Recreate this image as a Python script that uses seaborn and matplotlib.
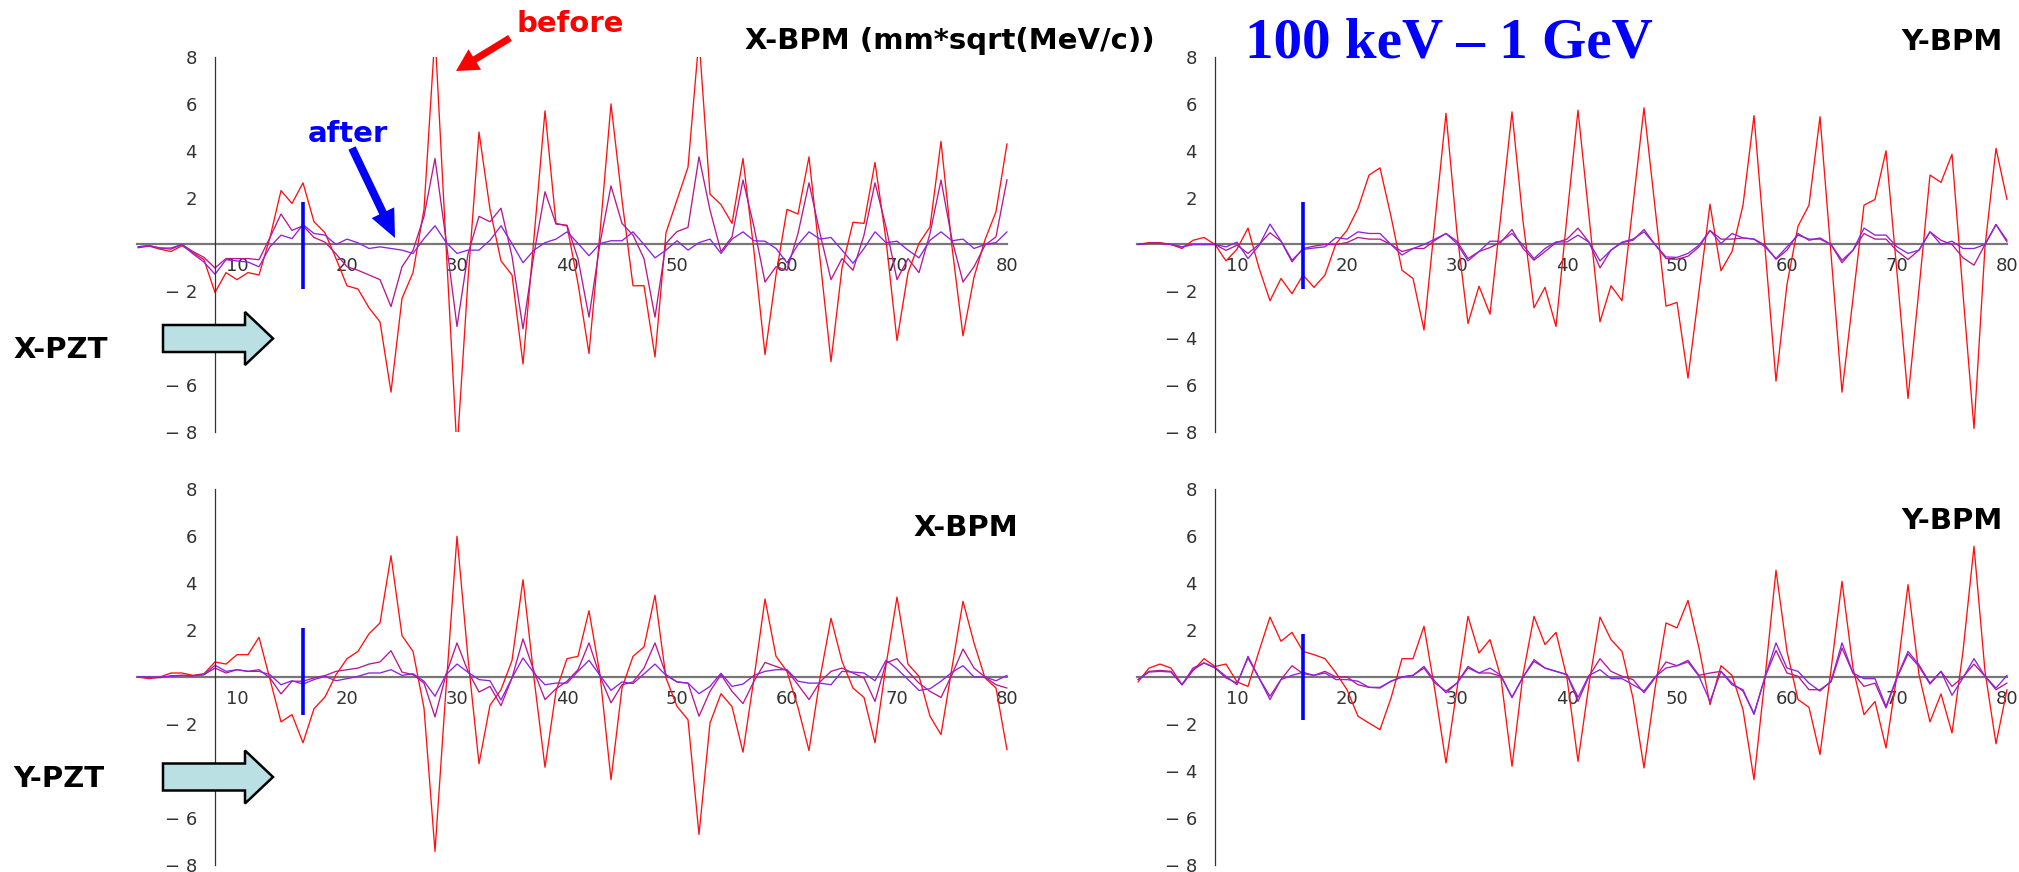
import pandas as pd
import seaborn as sns
import matplotlib
matplotlib.use('Agg')
from matplotlib import pyplot as plt
from matplotlib.patches import Polygon, FancyArrow
from matplotlib.ticker import FixedLocator, MultipleLocator

# BPM index along the line
steps = list(range(1, 81))

# X-PZT kick, X-BPM response (mm*sqrt(MeV/c))
xkick_xbpm_before = [
    -0.14, -0.07, -0.2, -0.3, -0.05, -0.35, -0.65, -2.05, -1.2, -1.5,
    -1.2, -1.3, 0.3, 2.3, 1.75, 2.63, 0.97, 0.5, -0.6, -1.76,
    -1.9, -2.7, -3.3, -6.3, -2.3, -1.2, 1.5, 9.0, 0.0, -8.8,
    -1.5, 4.8, 1.5, -0.7, -1.3, -5.1, 0.3, 5.7, 0.9, 0.8,
    -1.66, -4.65, 0.5, 6.0, 1.9, -1.76, -1.76, -4.8, 0.5, 1.9,
    3.3, 8.8, 2.15, 1.7, 0.9, 3.67, -0.3, -4.7, -1.3, 1.5,
    1.3, 3.74, -0.6, -5.0, -1.0, 0.95, 0.9, 3.5, 0.2, -4.1,
    -1.2, 0.05, 0.75, 4.4, -0.1, -3.9, -1.4, 0.2, 1.4, 4.3]
xkick_xbpm_mid = [
    -0.1, -0.05, -0.15, -0.2, 0.0, -0.3, -0.55, -1.0, -0.6, -0.6,
    -0.6, -0.65, 0.3, 1.3, 0.6, 0.8, 0.3, 0.1, -0.4, -0.95,
    -1.1, -1.3, -1.5, -2.65, -0.95, -0.25, 1.2, 3.67, 0.2, -3.5,
    -0.4, 1.2, 0.97, 1.55, -0.5, -3.6, -0.4, 2.25, 0.87, 0.82,
    -0.6, -3.1, 0.05, 2.5, 0.9, 0.4, -0.6, -3.1, 0.05, 0.55,
    0.73, 3.74, 1.47, -0.3, 0.33, 2.75, 0.75, -1.6, -0.95, -1.1,
    0.47, 2.63, 0.47, -1.5, -0.6, -1.1, 0.4, 2.63, 0.75, -1.5,
    -0.6, -1.2, 0.47, 2.75, 0.2, -1.6, -0.95, -0.03, 0.33, 2.77]
xkick_xbpm_after = [
    -0.1, -0.05, -0.15, -0.15, 0.0, -0.4, -0.75, -1.27, -0.65, -0.7,
    -0.75, -0.95, -0.1, 0.4, 0.25, 0.85, 0.47, 0.4, 0.0, 0.23,
    0.07, -0.17, -0.1, -0.17, -0.24, -0.38, 0.25, 0.8, 0.1, -0.38,
    -0.24, -0.24, 0.18, 0.8, 0.04, -0.78, -0.24, 0.08, 0.23, 0.54,
    0.05, -0.48, 0.04, 0.16, 0.16, 0.54, 0.0, -0.57, -0.24, 0.16,
    -0.24, 0.08, 0.23, -0.38, 0.23, 0.54, 0.16, 0.14, -0.17, -0.78,
    0.0, 0.54, 0.23, 0.3, -0.24, -0.8, -0.17, 0.54, 0.08, 0.14,
    -0.24, -0.57, 0.18, 0.54, 0.16, 0.23, -0.17, 0.0, 0.08, 0.54]

# X-PZT kick, Y-BPM response
xkick_ybpm_before = [
    0.0, 0.08, 0.08, 0.0, -0.17, 0.18, 0.3, 0.0, -0.7, -0.2,
    0.7, -1.0, -2.4, -1.45, -2.1, -1.3, -1.83, -1.3, 0.04, 0.6,
    1.54, 2.96, 3.27, 1.2, -1.1, -1.45, -3.65, 1.0, 5.6, 0.5,
    -3.37, -1.78, -2.97, 1.3, 5.66, 1.0, -2.7, -1.83, -3.5, 1.2,
    5.73, 1.2, -3.3, -1.76, -2.4, 1.7, 5.83, 1.6, -2.63, -2.47,
    -5.7, -2.0, 1.72, -1.12, -0.3, 1.68, 5.5, -0.15, -5.83, -1.7,
    0.78, 1.68, 5.45, -0.4, -6.3, -2.3, 1.68, 1.92, 4.0, -1.2,
    -6.57, -1.9, 2.96, 2.65, 3.85, -2.1, -7.85, -0.1, 4.1, 1.92]
xkick_ybpm_mid = [
    0.0, 0.05, 0.05, 0.0, -0.1, 0.0, 0.0, 0.0, -0.25, -0.03,
    -0.38, 0.0, 0.5, 0.14, -0.74, -0.17, -0.07, 0.0, 0.0, 0.08,
    0.3, 0.23, 0.23, 0.0, -0.3, -0.17, -0.17, 0.18, 0.47, 0.14,
    -0.6, -0.3, -0.13, 0.1, 0.64, -0.17, -0.67, -0.3, 0.08, 0.23,
    0.7, 0.1, -1.0, -0.24, 0.08, 0.18, 0.64, 0.0, -0.6, -0.63,
    -0.5, -0.1, 0.6, 0.23, 0.23, 0.28, 0.23, -0.03, -0.63, -0.24,
    0.47, 0.18, 0.28, 0.0, -0.78, -0.24, 0.47, 0.23, 0.23, -0.27,
    -0.64, -0.24, 0.54, 0.18, 0.0, -0.57, -0.88, 0.0, 0.85, 0.11]
xkick_ybpm_after = [
    0.0, 0.05, 0.05, 0.0, -0.1, 0.0, 0.0, 0.0, -0.1, 0.1,
    -0.6, -0.05, 0.87, 0.15, -0.67, -0.21, -0.15, -0.1, 0.3, 0.23,
    0.54, 0.47, 0.47, 0.0, -0.45, -0.17, 0.0, 0.23, 0.47, 0.04,
    -0.7, -0.3, 0.14, 0.14, 0.47, -0.03, -0.6, -0.17, 0.11, 0.11,
    0.4, 0.1, -0.7, -0.24, 0.1, 0.23, 0.54, 0.0, -0.53, -0.55,
    -0.38, -0.03, 0.6, 0.04, 0.47, 0.28, 0.23, -0.1, -0.6, -0.1,
    0.4, 0.23, 0.23, 0.0, -0.67, -0.24, 0.7, 0.4, 0.4, -0.1,
    -0.38, -0.24, 0.54, 0.0, 0.14, -0.17, -0.17, 0.0, 0.85, 0.18]

# Y-PZT kick, X-BPM response
ykick_xbpm_before = [
    0.0, -0.07, 0.0, 0.17, 0.17, 0.07, 0.14, 0.64, 0.55, 0.95,
    0.95, 1.69, -0.1, -1.91, -1.6, -2.8, -1.35, -0.85, 0.1, 0.78,
    1.09, 1.84, 2.3, 5.16, 1.76, 1.09, -1.32, -7.42, -0.5, 5.99,
    0.8, -3.69, -1.2, -0.54, 0.7, 4.14, -0.05, -3.84, -0.6, 0.78,
    0.88, 2.82, 0.1, -4.37, -0.47, 0.88, 1.28, 3.48, -0.04, -1.25,
    -1.82, -6.7, -1.96, -0.71, -1.26, -3.2, -0.05, 3.32, 0.88, 0.24,
    -1.3, -3.13, -0.05, 2.5, 0.67, -0.47, -0.87, -2.8, 0.5, 3.4,
    0.55, 0.03, -1.67, -2.45, 0.4, 3.22, 1.45, -0.04, -0.47, -3.1]
ykick_xbpm_mid = [
    0.0, -0.03, -0.03, 0.05, 0.07, 0.05, 0.1, 0.38, 0.17, 0.31,
    0.24, 0.31, -0.04, -0.72, -0.18, -0.18, -0.04, 0.06, 0.24, 0.31,
    0.38, 0.55, 0.64, 1.12, 0.21, 0.1, -0.26, -1.7, 0.1, 1.45,
    0.24, -0.64, -0.4, -1.22, -0.04, 1.62, 0.24, -0.96, -0.5, -0.18,
    0.31, 1.45, 0.03, -1.1, -0.33, -0.21, 0.38, 1.45, 0.1, -0.21,
    -0.26, -1.67, -0.61, 0.1, -0.61, -1.13, -0.18, 0.62, 0.45, 0.28,
    -0.33, -0.96, -0.21, 0.24, 0.38, 0.17, -0.04, -1.04, 0.6, 0.78,
    0.24, -0.26, -0.61, -0.87, 0.1, 1.19, 0.38, 0.0, -0.33, -0.47]
ykick_xbpm_after = [
    0.0, 0.0, 0.0, 0.03, 0.07, 0.05, 0.1, 0.5, 0.24, 0.31,
    0.24, 0.24, 0.1, -0.33, -0.16, -0.3, -0.11, 0.03, -0.16, -0.07,
    0.03, 0.17, 0.17, 0.31, 0.07, 0.14, -0.18, -0.82, 0.1, 0.55,
    0.2, -0.11, -0.16, -0.98, -0.04, 0.81, 0.17, -0.33, -0.26, -0.26,
    0.24, 0.71, 0.07, -0.57, -0.21, -0.28, 0.13, 0.55, 0.07, -0.21,
    -0.26, -0.71, -0.4, 0.16, -0.4, -0.3, 0.07, 0.24, 0.31, 0.31,
    -0.18, -0.26, -0.26, -0.33, 0.24, 0.21, 0.17, -0.16, 0.71, 0.35,
    -0.11, -0.57, -0.5, -0.18, 0.2, 0.48, 0.0, 0.0, -0.16, 0.07]

# Y-PZT kick, Y-BPM response
ykick_ybpm_before = [
    -0.21, 0.38, 0.55, 0.38, -0.33, 0.27, 0.78, 0.45, 0.55, -0.21,
    -0.4, 1.1, 2.55, 1.52, 1.9, 1.09, 0.95, 0.78, 0.17, -0.54,
    -1.67, -1.96, -2.24, -0.9, 0.78, 0.78, 2.16, -0.6, -3.66, -0.5,
    2.58, 1.02, 1.59, -0.04, -3.8, 0.1, 2.58, 1.38, 1.9, -0.04,
    -3.59, -0.3, 2.55, 1.59, 1.09, -0.9, -3.87, -0.5, 2.3, 2.09,
    3.26, 1.23, -1.18, 0.48, 0.07, -1.39, -4.37, -0.04, 4.54, 1.09,
    -0.96, -1.29, -3.3, 0.3, 4.07, 0.38, -1.6, -1.04, -3.02, 0.1,
    3.93, 0.1, -1.91, -0.72, -2.38, 1.09, 5.56, 0.24, -2.84, -0.54]
ykick_ybpm_mid = [
    -0.11, 0.24, 0.28, 0.24, -0.33, 0.38, 0.6, 0.38, -0.04, -0.26,
    0.81, -0.04, -0.82, -0.11, 0.48, 0.14, 0.07, 0.24, 0.0, 0.0,
    -0.33, -0.44, -0.47, -0.18, 0.0, 0.07, 0.38, -0.26, -0.6, -0.26,
    0.45, 0.17, 0.17, 0.03, -0.87, 0.0, 0.66, 0.38, 0.24, 0.1,
    -1.04, 0.03, 0.78, 0.24, 0.03, -0.11, -0.67, -0.04, 0.64, 0.48,
    0.71, 0.07, 0.17, 0.24, -0.26, -0.6, -1.56, 0.0, 1.13, 0.17,
    0.03, -0.54, -0.54, -0.21, 1.23, 0.17, -0.4, -0.26, -1.32, -0.04,
    0.98, 0.45, -0.3, 0.24, -0.4, 0.0, 0.55, 0.03, -0.54, -0.26]
ykick_ybpm_after = [
    -0.11, 0.21, 0.24, 0.21, -0.33, 0.3, 0.6, 0.41, 0.03, -0.33,
    0.88, -0.04, -0.96, -0.11, 0.07, 0.2, 0.07, 0.17, -0.11, -0.11,
    -0.18, -0.44, -0.44, -0.18, 0.0, 0.07, 0.45, -0.18, -0.67, -0.26,
    0.38, 0.17, 0.38, 0.07, -0.87, 0.0, 0.74, 0.38, 0.24, 0.1,
    -0.87, 0.07, 0.31, -0.07, -0.07, -0.33, -0.6, 0.0, 0.38, 0.48,
    0.64, 0.03, -1.04, 0.24, -0.33, -0.54, -1.59, 0.0, 1.45, 0.38,
    0.24, -0.26, -0.6, -0.18, 1.45, 0.17, -0.07, -0.07, -1.25, 0.0,
    1.09, 0.52, -0.26, 0.24, -0.78, -0.04, 0.78, 0.03, -0.47, 0.07]

# position of the kicker marker and its drawn extent per panel
kick_at = 16
kick_spans = [(-1.88, 1.82), (-1.88, 1.82), (-1.63, 2.09), (-1.84, 1.84)]

series_names = ['before', 'mid', 'after']
palette = {'before': '#ff1010', 'mid': '#b8188e', 'after': '#8a24e0'}

yticks = [-8, -6, -4, -2, 2, 4, 6, 8]
xticks = [10, 20, 30, 40, 50, 60, 70, 80]


def make_frame(before, mid, after):
    parts = []
    for name, vals in zip(series_names, [before, mid, after]):
        parts.append(pd.DataFrame({'bpm': steps, 'value': vals, 'series': name}))
    return pd.concat(parts, ignore_index=True)


def draw_panel(ax, df, span):
    sns.lineplot(data=df, x='bpm', y='value', hue='series', hue_order=series_names,
                 palette=palette, estimator=None, sort=False, legend=False,
                 linewidth=0.95, ax=ax)
    ax.vlines(kick_at, span[0], span[1], color='#0000ff', linewidth=2.6, zorder=5)
    ax.set_xlim(0.9, 80.2)
    ax.set_ylim(-8, 8)
    ax.set_xlabel('')
    ax.set_ylabel('')
    for s in ['top', 'right']:
        ax.spines[s].set_visible(False)
    ax.spines['left'].set_position(('data', 8))
    ax.spines['bottom'].set_position(('data', 0))
    ax.spines['bottom'].set_bounds(0.9, 80)
    ax.spines['left'].set_color('#333333')
    ax.spines['left'].set_linewidth(0.9)
    ax.spines['bottom'].set_color('#777777')
    ax.spines['bottom'].set_linewidth(1.6)
    ax.spines['bottom'].set_zorder(1)
    ax.yaxis.set_major_locator(FixedLocator(yticks))
    ax.yaxis.set_minor_locator(MultipleLocator(0.5))
    ax.xaxis.set_major_locator(FixedLocator(xticks))
    ax.xaxis.set_minor_locator(FixedLocator(list(range(2, 81, 2))))
    ax.set_yticklabels([str(t).replace('-', '\u2212 ') for t in yticks])
    ax.set_xticklabels([str(t) for t in xticks])
    ax.tick_params(axis='y', which='major', direction='in', length=3.5, width=0.8,
                   color='#333333', labelsize=13, labelcolor='#333333', pad=13)
    ax.tick_params(axis='y', which='minor', direction='in', length=2, width=0.7,
                   color='#333333')
    ax.tick_params(axis='x', which='major', direction='in', length=3.5, width=0.8,
                   color='#333333', labelsize=13, labelcolor='#333333', pad=9)
    ax.tick_params(axis='x', which='minor', direction='in', length=2, width=0.7,
                   color='#333333')
    ax.set_facecolor('none')


sns.set_theme(style='white')
plt.rcParams['font.family'] = ['DejaVu Sans']

fig = plt.figure(figsize=(20.19, 8.72), dpi=100)

W, H = 2019.0, 872.0
ax_w = 872.3 / W
top_b, top_h = 1 - 432 / H, 375 / H
bot_b, bot_h = 1 - 865 / H, 376 / H

ax_tl = fig.add_axes([136.9 / W, top_b, ax_w, top_h])
ax_tr = fig.add_axes([1136.9 / W, top_b, ax_w, top_h])
ax_bl = fig.add_axes([136.9 / W, bot_b, ax_w, bot_h])
ax_br = fig.add_axes([1136.9 / W, bot_b, ax_w, bot_h])

draw_panel(ax_tl, make_frame(xkick_xbpm_before, xkick_xbpm_mid, xkick_xbpm_after), kick_spans[0])
draw_panel(ax_tr, make_frame(xkick_ybpm_before, xkick_ybpm_mid, xkick_ybpm_after), kick_spans[1])
draw_panel(ax_bl, make_frame(ykick_xbpm_before, ykick_xbpm_mid, ykick_xbpm_after), kick_spans[2])
draw_panel(ax_br, make_frame(ykick_ybpm_before, ykick_ybpm_mid, ykick_ybpm_after), kick_spans[3])

# overlay in pixel coordinates for labels and arrows
ov = fig.add_axes([0, 0, 1, 1], zorder=10)
ov.set_xlim(0, W)
ov.set_ylim(H, 0)
ov.axis('off')
ov.patch.set_alpha(0)

title_kw = dict(fontsize=21, fontweight='bold', color='black', va='center')
ov.text(950, 41, 'X-BPM (mm*sqrt(MeV/c))', ha='center', **title_kw)
ov.text(2003, 42, 'Y-BPM', ha='right', **title_kw)
ov.text(1018, 528, 'X-BPM', ha='right', **title_kw)
ov.text(2003, 521, 'Y-BPM', ha='right', **title_kw)
ov.text(13, 350, 'X-PZT', ha='left', **title_kw)
ov.text(13, 779, 'Y-PZT', ha='left', **title_kw)

ov.text(1449, 43, '100 keV \u2013 1 GeV', ha='center', va='center', fontsize=41,
        fontweight='bold', color='#0000ff', family=['Liberation Serif', 'DejaVu Serif'])

ov.text(570, 24, 'before', ha='center', va='center', fontsize=21, fontweight='bold',
        color='#ff0000')
ov.text(348, 134, 'after', ha='center', va='center', fontsize=21, fontweight='bold',
        color='#0000ff')

ov.add_patch(FancyArrow(510, 38, -54, 33, width=7, head_width=24, head_length=22,
                        length_includes_head=True, color='#ff0000', lw=0))
ov.add_patch(FancyArrow(352, 148, 43, 90, width=8, head_width=25, head_length=28,
                        length_includes_head=True, color='#0000ff', lw=0))

for yc in [338.5, 777]:
    ov.add_patch(Polygon([(163, yc - 13.5), (245, yc - 13.5), (245, yc - 26.5), (273, yc),
                          (245, yc + 26.5), (245, yc + 13.5), (163, yc + 13.5)],
                         closed=True, facecolor='#bae0e3', edgecolor='black', linewidth=1.8))

fig.savefig('out.png', dpi=100)
